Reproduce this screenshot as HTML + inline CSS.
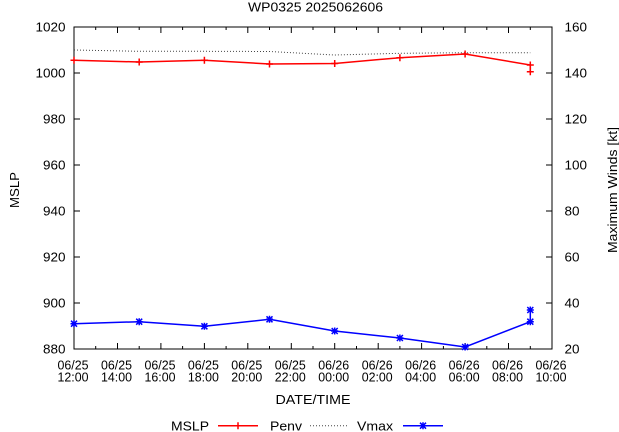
<!DOCTYPE html>
<html><head><meta charset="utf-8"><style>
html,body{margin:0;padding:0;background:#fff;}
svg{display:block;}
text{font-family:"Liberation Sans",Arial,sans-serif;font-size:13px;fill:#000;}
</style></head><body>
<svg width="619" height="432" viewBox="0 0 619 432" xmlns="http://www.w3.org/2000/svg">
<rect width="619" height="432" fill="#fff"/>
<!-- title -->
<text x="315.5" y="11.5" text-anchor="middle" textLength="135" lengthAdjust="spacingAndGlyphs">WP0325 2025062606</text>

<!-- border -->
<rect x="74" y="27" width="478" height="322" fill="none" stroke="#000" stroke-width="1"/>

<!-- y ticks left & right -->
<g stroke="#000" stroke-width="1">
<path d="M74 27H80M74 73H80M74 119H80M74 165H80M74 211H80M74 257H80M74 303H80M74 349H80"/>
<path d="M552 27H546M552 73H546M552 119H546M552 165H546M552 211H546M552 257H546M552 303H546M552 349H546"/>
<!-- x ticks -->
<path d="
M74 349V343M95.7 349V346M117.5 349V343M139.2 349V346M160.9 349V343M182.6 349V346M204.4 349V343M226.1 349V346M247.8 349V343M269.5 349V346M291.3 349V343M313 349V346M334.7 349V343M356.5 349V346M378.2 349V343M399.9 349V346M421.6 349V343M443.4 349V346M465.1 349V343M486.8 349V346M508.5 349V343M530.3 349V346M552 349V343
M74 27V33M95.7 27V30M117.5 27V33M139.2 27V30M160.9 27V33M182.6 27V30M204.4 27V33M226.1 27V30M247.8 27V33M269.5 27V30M291.3 27V33M313 27V30M334.7 27V33M356.5 27V30M378.2 27V33M399.9 27V30M421.6 27V33M443.4 27V30M465.1 27V33M486.8 27V30M508.5 27V33M530.3 27V30M552 27V33"/>
</g>

<!-- left tick labels -->
<g text-anchor="end">
<text x="65.5" y="31.5" textLength="30" lengthAdjust="spacingAndGlyphs">1020</text>
<text x="65.5" y="77.5" textLength="30" lengthAdjust="spacingAndGlyphs">1000</text>
<text x="65.5" y="123.5" textLength="22.5" lengthAdjust="spacingAndGlyphs">980</text>
<text x="65.5" y="169.5" textLength="22.5" lengthAdjust="spacingAndGlyphs">960</text>
<text x="65.5" y="215.5" textLength="22.5" lengthAdjust="spacingAndGlyphs">940</text>
<text x="65.5" y="261.5" textLength="22.5" lengthAdjust="spacingAndGlyphs">920</text>
<text x="65.5" y="307.5" textLength="22.5" lengthAdjust="spacingAndGlyphs">900</text>
<text x="65.5" y="353.5" textLength="22.5" lengthAdjust="spacingAndGlyphs">880</text>
</g>
<!-- right tick labels -->
<g>
<text x="564.5" y="31.5" textLength="22.5" lengthAdjust="spacingAndGlyphs">160</text>
<text x="564.5" y="77.5" textLength="22.5" lengthAdjust="spacingAndGlyphs">140</text>
<text x="564.5" y="123.5" textLength="22.5" lengthAdjust="spacingAndGlyphs">120</text>
<text x="564.5" y="169.5" textLength="22.5" lengthAdjust="spacingAndGlyphs">100</text>
<text x="564.5" y="215.5" textLength="15" lengthAdjust="spacingAndGlyphs">80</text>
<text x="564.5" y="261.5" textLength="15" lengthAdjust="spacingAndGlyphs">60</text>
<text x="564.5" y="307.5" textLength="15" lengthAdjust="spacingAndGlyphs">40</text>
<text x="564.5" y="353.5" textLength="15" lengthAdjust="spacingAndGlyphs">20</text>
</g>

<!-- x tick labels -->
<g text-anchor="middle">
<text x="73" y="369.5" textLength="31" lengthAdjust="spacingAndGlyphs">06/25</text><text x="73" y="381.5" textLength="31" lengthAdjust="spacingAndGlyphs">12:00</text>
<text x="116.5" y="369.5" textLength="31" lengthAdjust="spacingAndGlyphs">06/25</text><text x="116.5" y="381.5" textLength="31" lengthAdjust="spacingAndGlyphs">14:00</text>
<text x="160" y="369.5" textLength="31" lengthAdjust="spacingAndGlyphs">06/25</text><text x="160" y="381.5" textLength="31" lengthAdjust="spacingAndGlyphs">16:00</text>
<text x="203.4" y="369.5" textLength="31" lengthAdjust="spacingAndGlyphs">06/25</text><text x="203.4" y="381.5" textLength="31" lengthAdjust="spacingAndGlyphs">18:00</text>
<text x="246.8" y="369.5" textLength="31" lengthAdjust="spacingAndGlyphs">06/25</text><text x="246.8" y="381.5" textLength="31" lengthAdjust="spacingAndGlyphs">20:00</text>
<text x="290.3" y="369.5" textLength="31" lengthAdjust="spacingAndGlyphs">06/25</text><text x="290.3" y="381.5" textLength="31" lengthAdjust="spacingAndGlyphs">22:00</text>
<text x="333.7" y="369.5" textLength="31" lengthAdjust="spacingAndGlyphs">06/26</text><text x="333.7" y="381.5" textLength="31" lengthAdjust="spacingAndGlyphs">00:00</text>
<text x="377.2" y="369.5" textLength="31" lengthAdjust="spacingAndGlyphs">06/26</text><text x="377.2" y="381.5" textLength="31" lengthAdjust="spacingAndGlyphs">02:00</text>
<text x="420.6" y="369.5" textLength="31" lengthAdjust="spacingAndGlyphs">06/26</text><text x="420.6" y="381.5" textLength="31" lengthAdjust="spacingAndGlyphs">04:00</text>
<text x="464.1" y="369.5" textLength="31" lengthAdjust="spacingAndGlyphs">06/26</text><text x="464.1" y="381.5" textLength="31" lengthAdjust="spacingAndGlyphs">06:00</text>
<text x="507.5" y="369.5" textLength="31" lengthAdjust="spacingAndGlyphs">06/26</text><text x="507.5" y="381.5" textLength="31" lengthAdjust="spacingAndGlyphs">08:00</text>
<text x="551" y="369.5" textLength="31" lengthAdjust="spacingAndGlyphs">06/26</text><text x="551" y="381.5" textLength="31" lengthAdjust="spacingAndGlyphs">10:00</text>
</g>

<!-- axis labels -->
<text x="313" y="404" text-anchor="middle" textLength="75" lengthAdjust="spacingAndGlyphs">DATE/TIME</text>
<text transform="translate(19,190) rotate(-90)" text-anchor="middle" textLength="36" lengthAdjust="spacingAndGlyphs">MSLP</text>
<text transform="translate(617,190) rotate(-90)" text-anchor="middle" textLength="126" lengthAdjust="spacingAndGlyphs">Maximum Winds [kt]</text>

<!-- Penv dotted -->
<polyline fill="none" stroke="#444" stroke-width="1" stroke-dasharray="1,2" points="74,50 139.2,51.3 204.4,51.3 269.5,51.5 334.7,55 399.9,53.3 465.1,52.7 530.3,52.7"/>

<!-- MSLP red -->
<polyline fill="none" stroke="#ff0000" stroke-width="1.5" points="74,60.3 139.2,62 204.4,60.3 269.5,64 334.7,63.5 399.9,57.7 465.1,54 530.3,65 530.3,71.7"/>
<g stroke="#ff0000" stroke-width="1.5" fill="none">
<path d="M70.5 60.3h7M74 56.8v7"/>
<path d="M135.7 62h7M139.2 58.5v7"/>
<path d="M200.9 60.3h7M204.4 56.8v7"/>
<path d="M266 64h7M269.5 60.5v7"/>
<path d="M331.2 63.5h7M334.7 60v7"/>
<path d="M396.4 57.7h7M399.9 54.2v7"/>
<path d="M461.6 54h7M465.1 50.5v7"/>
<path d="M526.8 65h7M530.3 61.5v7"/>
<path d="M526.8 71.7h7M530.3 68.2v7"/>
</g>

<!-- Vmax blue -->
<polyline fill="none" stroke="#0000ff" stroke-width="1.5" points="74,323.7 139.2,321.7 204.4,326.3 269.5,319.3 334.7,331 399.9,338 465.1,347 530.3,321.7 530.3,310"/>
<g stroke="#0000ff" stroke-width="1.5" fill="none">
<path d="M70.5 323.7h7M74 320.2v7M71 320.7l6 6M77 320.7l-6 6"/>
<path d="M135.7 321.7h7M139.2 318.2v7M136.2 318.7l6 6M142.2 318.7l-6 6"/>
<path d="M200.9 326.3h7M204.4 322.8v7M201.4 323.3l6 6M207.4 323.3l-6 6"/>
<path d="M266 319.3h7M269.5 315.8v7M266.5 316.3l6 6M272.5 316.3l-6 6"/>
<path d="M331.2 331h7M334.7 327.5v7M331.7 328l6 6M337.7 328l-6 6"/>
<path d="M396.4 338h7M399.9 334.5v7M396.9 335l6 6M402.9 335l-6 6"/>
<path d="M461.6 347h7M465.1 343.5v7M462.1 344l6 6M468.1 344l-6 6"/>
<path d="M526.8 321.7h7M530.3 318.2v7M527.3 318.7l6 6M533.3 318.7l-6 6"/>
<path d="M526.8 310h7M530.3 306.5v7M527.3 307l6 6M533.3 307l-6 6"/>
</g>

<!-- legend -->
<text x="209" y="430.5" text-anchor="end" textLength="38" lengthAdjust="spacingAndGlyphs">MSLP</text>
<path d="M218 425.7H258" stroke="#ff0000" stroke-width="1.5"/>
<path d="M234.5 425.7h7M238 422.2v7" stroke="#ff0000" stroke-width="1.5"/>
<text x="302" y="430.5" text-anchor="end" textLength="32" lengthAdjust="spacingAndGlyphs">Penv</text>
<path d="M310 425.7H349" stroke="#444" stroke-width="1" stroke-dasharray="1,2"/>
<text x="393" y="430.5" text-anchor="end" textLength="36" lengthAdjust="spacingAndGlyphs">Vmax</text>
<path d="M403 425.7H443" stroke="#0000ff" stroke-width="1.5"/>
<path d="M419.5 425.7h7M423 422.2v7M420 422.7l6 6M426 422.7l-6 6" stroke="#0000ff" stroke-width="1.5"/>
</svg>
</body></html>
